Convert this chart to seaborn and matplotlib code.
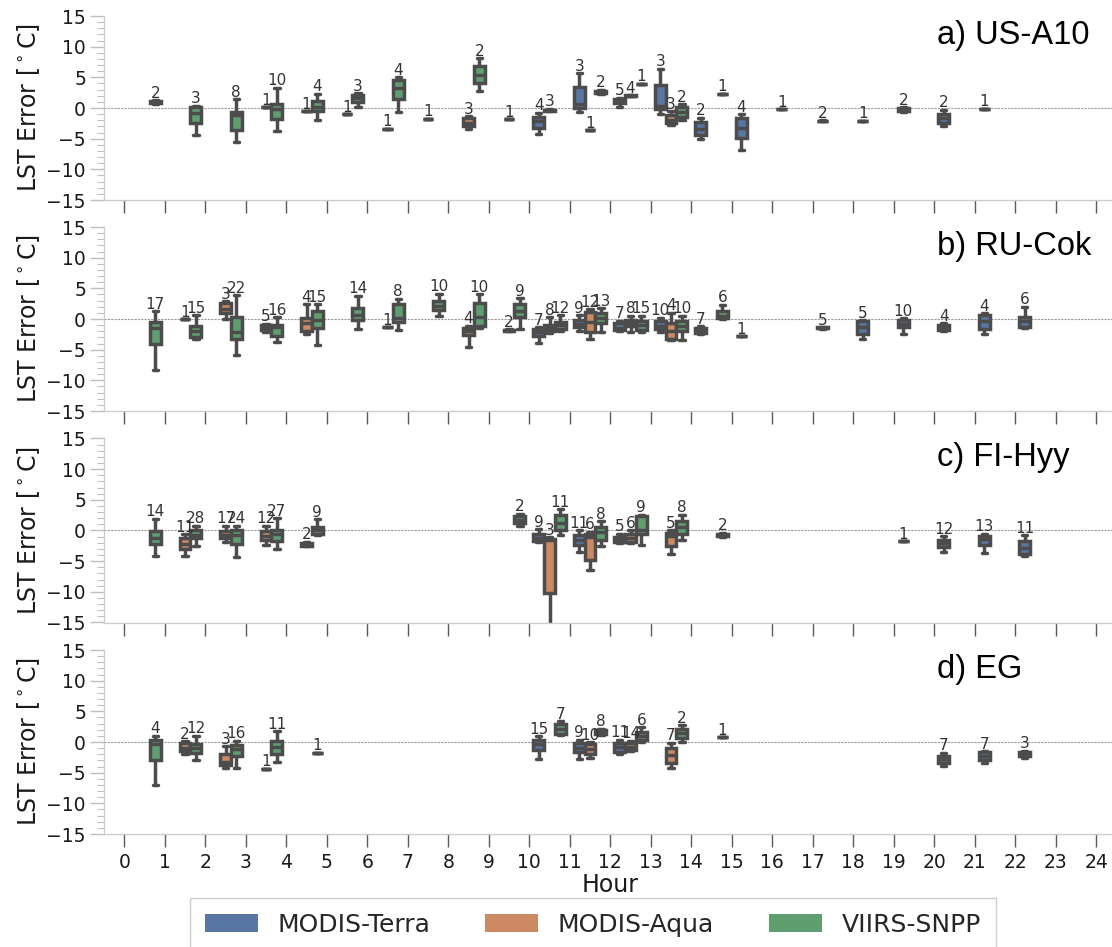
import numpy as np
import pandas as pd
import matplotlib
matplotlib.use("Agg")
import matplotlib.pyplot as plt
from matplotlib.patches import Patch
from matplotlib.ticker import MultipleLocator
import seaborn as sns

sns.set_theme(style="ticks")
plt.rcParams["font.family"] = ["DejaVu Sans"]

SENSORS = ["MODIS-Terra", "MODIS-Aqua", "VIIRS-SNPP"]
CODE = {"T": "MODIS-Terra", "A": "MODIS-Aqua", "V": "VIIRS-SNPP"}

# Each box: overpass hour bin, sensor code, sample count and
# (min, q1, median, q3, max) of the LST error; single values for n=1.

# a) US-A10
a_hour = [0, 1, 2, 3, 3, 4, 4, 5, 5, 6, 6, 7, 8, 8, 9, 10, 10, 11, 11, 11,
          12, 12, 12, 13, 13, 13, 14, 14, 15, 16, 17, 18, 19, 20, 21]
a_sensor = "V V V A V A V A V A V A A V A T A T A V T A V T A V T V T T T T T T T".split()
a_n = [2, 3, 8, 1, 10, 1, 4, 1, 3, 1, 4, 1, 3, 2, 1, 4, 3, 3, 1, 2,
       5, 4, 1, 3, 3, 2, 2, 1, 4, 1, 2, 1, 2, 2, 1]
a_stats = [
    (0.6, 0.8, 0.95, 1.15, 1.3),
    (-4.4, -2.5, -0.8, 0.2, 0.4),
    (-5.6, -3.6, -1.1, -0.6, 1.4),
    (0.1,),
    (-3.8, -1.8, -0.1, 0.6, 3.3),
    (-0.5,),
    (-2.0, -0.5, 0.2, 1.1, 2.3),
    (-1.0,),
    (0.2, 0.9, 1.6, 2.2, 2.4),
    (-3.4,),
    (-0.7, 1.5, 3.2, 4.5, 5.0),
    (-1.75,),
    (-3.5, -3.0, -2.4, -1.7, -1.3),
    (2.8, 4.1, 5.4, 6.8, 8.1),
    (-1.8,),
    (-4.2, -3.2, -2.2, -1.4, -0.8),
    (-0.55, -0.45, -0.35, -0.25, -0.15),
    (-0.7, 0.0, 0.7, 3.4, 5.7),
    (-3.65,),
    (2.3, 2.45, 2.65, 2.85, 3.0),
    (0.1, 0.8, 1.1, 1.5, 1.7),
    (1.9, 1.95, 2.0, 2.05, 2.1),
    (3.95,),
    (-0.9, -0.1, 0.4, 3.7, 6.4),
    (-2.8, -2.5, -1.9, -1.2, -0.5),
    (-2.0, -1.4, -0.7, 0.1, 0.65),
    (-5.1, -4.4, -3.4, -2.35, -1.6),
    (2.3,),
    (-6.8, -4.9, -3.3, -1.7, -1.0),
    (-0.2,),
    (-2.2, -2.15, -2.1, -2.05, -2.0),
    (-2.05,),
    (-0.6, -0.45, -0.2, 0.0, 0.15),
    (-2.9, -2.5, -1.7, -0.9, -0.3),
    (-0.1,),
]

# b) RU-Cok
b_hour = [0, 1, 1, 2, 2, 3, 3, 4, 4, 5, 6, 6, 7, 8, 8, 9, 9, 10, 10, 10,
          11, 11, 11, 12, 12, 12, 13, 13, 13, 14, 14, 15, 17, 18, 19, 20, 21, 22]
b_sensor = ("V A V A V A V A V V A V V A V A V T A V "
            "T A V T A V T A V T V T T T T T T T").split()
b_n = [17, 1, 15, 3, 22, 5, 16, 4, 15, 14, 1, 8, 10, 4, 10, 2, 9, 7, 8, 12,
       9, 12, 13, 7, 8, 15, 10, 4, 10, 7, 6, 1, 5, 5, 10, 4, 4, 6]
b_stats = [
    (-8.3, -4.1, -1.5, -0.45, 1.3),
    (0.0,),
    (-3.3, -3.0, -2.0, -1.2, 0.6),
    (0.0, 0.9, 1.7, 2.6, 2.9),
    (-5.9, -3.3, -2.2, 0.3, 3.9),
    (-2.1, -1.8, -1.3, -1.0, -0.8),
    (-3.8, -2.8, -1.3, -0.9, 0.3),
    (-2.4, -1.9, -0.7, 0.1, 2.4),
    (-4.2, -1.4, -0.1, 1.25, 2.4),
    (-1.6, -0.1, 0.6, 1.8, 3.8),
    (-1.3,),
    (-1.8, -0.5, 0.2, 2.4, 3.3),
    (0.5, 1.5, 2.2, 3.0, 4.1),
    (-4.5, -2.6, -2.0, -1.4, -1.1),
    (-1.5, -1.2, 0.3, 2.6, 4.0),
    (-2.0, -1.95, -1.85, -1.75, -1.7),
    (-1.7, 0.3, 1.3, 2.4, 3.4),
    (-3.9, -2.7, -2.2, -1.7, -1.3),
    (-2.3, -1.9, -1.4, -0.9, 0.3),
    (-1.9, -1.6, -0.9, -0.5, 0.6),
    (-2.0, -1.3, -0.75, -0.2, 0.6),
    (-3.2, -2.1, -0.5, 1.15, 1.6),
    (-2.2, -0.7, 0.1, 0.9, 1.8),
    (-2.0, -1.8, -1.4, -0.6, -0.3),
    (-2.2, -1.2, -0.6, -0.15, 0.5),
    (-2.1, -1.8, -1.0, -0.3, 0.5),
    (-2.2, -1.7, -1.1, -0.3, 0.2),
    (-3.4, -3.2, -1.9, -0.6, 1.0),
    (-3.5, -2.0, -1.2, -0.3, 0.5),
    (-2.5, -2.3, -1.8, -1.4, -1.2),
    (0.0, 0.1, 0.5, 1.3, 2.3),
    (-2.8,),
    (-1.55, -1.5, -1.4, -1.35, -1.3),
    (-3.2, -2.4, -1.3, -0.3, -0.2),
    (-2.5, -1.3, -0.85, -0.1, 0.1),
    (-1.9, -1.8, -1.4, -0.95, -0.65),
    (-2.5, -1.7, -0.4, 0.7, 0.9),
    (-1.5, -1.3, -0.4, 0.3, 2.0),
]

# c) FI-Hyy
c_hour = [0, 1, 1, 2, 2, 3, 3, 4, 4, 9, 10, 10, 10, 11, 11, 11, 12, 12, 12,
          13, 13, 14, 19, 20, 21, 22]
c_sensor = "V A V A V A V A V V T A V T A V T A V A V V T T T T".split()
c_n = [14, 11, 28, 17, 24, 12, 27, 2, 9, 2, 9, 3, 11, 11, 6, 8, 5, 6, 9,
       5, 8, 2, 1, 12, 13, 11]
c_stats = [
    (-4.1, -2.2, -1.2, -0.1, 1.9),
    (-4.2, -3.0, -2.2, -1.2, -0.6),
    (-2.6, -1.25, -0.7, 0.0, 0.8),
    (-1.9, -1.2, -0.7, -0.1, 0.8),
    (-4.3, -2.2, -0.7, 0.1, 0.8),
    (-2.3, -1.6, -0.9, -0.1, 0.8),
    (-3.0, -1.7, -0.6, 0.1, 2.0),
    (-2.6, -2.45, -2.2, -2.0, -1.8),
    (-0.8, -0.6, 0.0, 0.5, 1.8),
    (0.8, 1.3, 1.7, 2.3, 2.7),
    (-1.9, -1.7, -1.3, -0.6, 0.2),
    (-18.8, -10.2, -1.6, -1.35, -1.1),
    (-0.7, 0.1, 1.3, 2.5, 3.5),
    (-3.5, -2.3, -1.5, -0.8, 0.0),
    (-6.5, -4.8, -1.1, -0.5, -0.2),
    (-2.5, -1.6, -0.3, 0.6, 1.5),
    (-2.1, -1.9, -1.5, -1.0, -0.5),
    (-2.0, -1.8, -1.2, -0.6, 0.0),
    (-2.4, -0.6, 0.0, 2.4, 2.6),
    (-3.8, -2.6, -0.9, -0.4, 0.0),
    (-1.5, -0.6, 0.5, 1.5, 2.6),
    (-1.1, -0.95, -0.7, -0.5, -0.35),
    (-1.75,),
    (-3.5, -2.7, -2.0, -1.5, -0.9),
    (-3.6, -2.3, -1.4, -0.9, -0.5),
    (-4.1, -3.9, -2.8, -1.75, -0.8),
]

# d) EG
d_hour = [0, 1, 1, 2, 2, 3, 3, 4, 10, 10, 11, 11, 11, 12, 12, 12, 13, 13,
          14, 20, 21, 22]
d_sensor = "V A V A V A V V T V T A V T A V A V V T T T".split()
d_n = [4, 2, 12, 3, 16, 1, 11, 1, 15, 7, 9, 10, 8, 11, 14, 6, 7, 2, 1, 7, 7, 3]
d_stats = [
    (-7.0, -2.9, -0.4, 0.3, 1.0),
    (-2.0, -1.5, -1.0, -0.2, 0.15),
    (-3.0, -1.8, -1.0, -0.3, 1.0),
    (-4.3, -3.8, -3.3, -2.0, -0.7),
    (-4.3, -2.3, -1.2, -0.5, 0.2),
    (-4.35,),
    (-3.2, -2.0, -0.8, 0.15, 1.8),
    (-1.75,),
    (-2.7, -1.3, -0.4, 0.4, 0.9),
    (1.1, 1.3, 2.2, 3.0, 3.4),
    (-2.8, -1.7, -1.0, -0.2, 0.4),
    (-2.6, -2.0, -1.1, -0.3, 0.0),
    (1.1, 1.3, 1.6, 2.0, 2.2),
    (-2.0, -1.7, -0.8, -0.2, 0.4),
    (-1.5, -1.3, -0.8, -0.1, 0.2),
    (0.05, 0.3, 1.0, 1.6, 2.4),
    (-4.3, -3.4, -2.1, -1.0, -0.1),
    (0.05, 0.7, 1.4, 2.2, 2.75),
    (0.8,),
    (-3.95, -3.4, -2.8, -2.3, -1.75),
    (-3.5, -3.0, -2.3, -1.6, -1.5),
    (-2.6, -2.35, -2.0, -1.6, -1.4),
]

panels = [
    ("a) US-A10", a_hour, a_sensor, a_n, a_stats),
    ("b) RU-Cok", b_hour, b_sensor, b_n, b_stats),
    ("c) FI-Hyy", c_hour, c_sensor, c_n, c_stats),
    ("d) EG", d_hour, d_sensor, d_n, d_stats),
]

BOX_WIDTH = 0.8
palette = sns.color_palette("deep", 3)
hue_offsets = {s: (i - 1) * BOX_WIDTH / 3 for i, s in enumerate(SENSORS)}


def long_frame(hours, sensors, stats):
    rows = []
    for h, s, st in zip(hours, sensors, stats):
        for v in st:
            rows.append({"hour": h + 0.5, "sensor": CODE[s], "err": v})
    return pd.DataFrame(rows)


fig = plt.figure(figsize=(11.12, 9.47), dpi=100)
W, H = 1112.0, 947.0
left_px, width_px, height_px = 104.0, 1012.5, 184.0
tops = [16.0, 227.0, 438.5, 650.0]

axes = []
for i, (title, hours, sensors, ns, stats) in enumerate(panels):
    bottom = 1 - (tops[i] + height_px) / H
    ax = fig.add_axes([left_px / W, bottom, width_px / W, height_px / H])
    axes.append(ax)

    df = long_frame(hours, sensors, stats)
    ax.axhline(0, color="0.6", lw=0.8, ls=(0, (2, 1)), zorder=0)
    sns.boxplot(data=df, x="hour", y="err", hue="sensor", hue_order=SENSORS,
                palette=palette, native_scale=True, width=BOX_WIDTH,
                whis=(0, 100), linewidth=2.5, legend=False, ax=ax)

    # sample counts above each box
    for h, s, n, st in zip(hours, sensors, ns, stats):
        xpos = h + 0.5 + hue_offsets[CODE[s]]
        ax.text(xpos, max(st) + 0.4, str(n), ha="center", va="baseline",
                fontsize=11, color="0.2")

    ax.set_xlim(-0.5, 24.5)
    ax.set_ylim(-15, 15)
    ax.set_yticks(np.arange(-15, 16, 5))
    ax.yaxis.set_minor_locator(MultipleLocator(1))
    ax.set_xticks(np.arange(0, 25, 1))
    ax.tick_params(axis="y", which="major", length=10, width=1, color="0.75",
                   labelsize=13.5, pad=3, labelcolor="0.1")
    ax.tick_params(axis="y", which="minor", length=5, width=0.8, color="0.75")
    ax.tick_params(axis="x", which="major", length=9.5, width=1, color="0.35",
                   labelsize=13.5, pad=4, labelcolor="0.1")
    for side in ("top", "right"):
        ax.spines[side].set_visible(False)
    for side in ("left", "bottom"):
        ax.spines[side].set_color("0.8")
        ax.spines[side].set_linewidth(1.0)

    ax.set_ylabel("LST Error [$^\\circ$C]", fontsize=17, labelpad=3, color="0.1")
    if i < 3:
        ax.set_xlabel("")
        ax.tick_params(axis="x", labelbottom=False)
    else:
        ax.set_xlabel("Hour", fontsize=17, labelpad=1, color="0.1")

    ax.text(0.823, 0.85, title, transform=ax.transAxes, ha="left",
            va="baseline", fontsize=23.5, family=["Liberation Sans", "DejaVu Sans"],
            color="black")

handles = [Patch(facecolor=sns.desaturate(c, 0.75), edgecolor="none") for c in palette]
fig.legend(handles, SENSORS, loc="upper center",
           bbox_to_anchor=(593 / W, 1 - 898 / H), ncol=3, fontsize=18,
           frameon=True, fancybox=False, edgecolor="0.8", framealpha=1,
           handlelength=2.1, handleheight=0.75, handletextpad=0.8,
           columnspacing=2.2, borderpad=0.6, borderaxespad=0)

fig.savefig("out.png", dpi=100)
